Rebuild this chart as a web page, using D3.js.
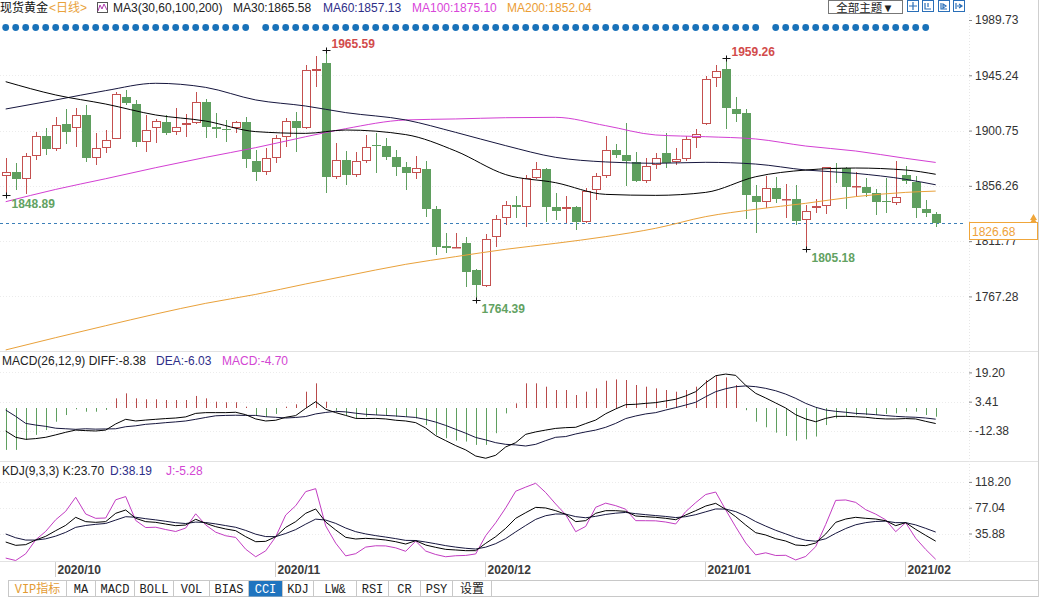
<!DOCTYPE html>
<html><head><meta charset="utf-8">
<script src="https://cdn.jsdelivr.net/npm/d3@7"></script>
<style>
html,body{margin:0;padding:0;background:#fff;}
svg{display:block;font-family:"Liberation Sans",Arial,sans-serif;}
</style></head><body>
<svg id="c" width="1040" height="597"></svg>
<script>
// ---------- DATA ----------
const openP=[1863.9,1867.2,1861.5,1880.5,1896.6,1885.7,1905.8,1902.6,1913.0,1878.4,
1887.0,1894.2,1927.5,1922.1,1891.3,1902.6,1907.4,1899.8,1905.0,1906.6,
1923.7,1903.4,1902.0,1902.6,1907.4,1876.0,1867.7,1878.4,1895.8,1908.5,
1902.6,1948.9,1954.9,1863.1,1877.1,1865.0,1876.5,1889.3,1888.3,1879.7,
1871.2,1866.4,1869.6,1837.4,1807.9,1806.8,1810.0,1788.6,1775.9,1814.8,
1830.1,1840.8,1839.0,1862.8,1869.8,1839.0,1837.4,1839.0,1827.4,1852.9,
1864.2,1885.1,1881.1,1875.7,1860.4,1873.0,1882.5,1875.4,1877.9,1894.5,
1905.8,1942.8,1950.1,1917.9,1914.6,1848.1,1843.5,1854.3,1845.0,1845.4,
1828.8,1838.2,1840.0,1870.9,1870.4,1855.4,1855.1,1850.3,1843.8,1842.7,
1865.0,1859.6,1837.4,1833.6];
const highP=[1878.4,1874.9,1882.5,1899.8,1902.6,1911.9,1917.9,1918.7,1921.3,1898.5,
1901.2,1932.0,1933.4,1925.4,1913.3,1909.8,1913.3,1918.7,1914.1,1932.0,
1925.9,1914.6,1909.3,1908.7,1911.4,1885.1,1886.5,1897.2,1910.6,1915.9,
1953.5,1960.8,1965.59,1890.5,1884.0,1883.7,1897.2,1898.5,1894.5,1885.1,
1875.7,1880.3,1876.5,1840.0,1818.1,1818.6,1814.8,1789.0,1817.5,1832.8,
1843.8,1848.1,1865.0,1875.7,1870.4,1850.2,1848.1,1840.3,1854.3,1866.4,
1896.4,1889.9,1906.6,1883.7,1878.4,1882.5,1898.5,1886.5,1896.4,1901.8,
1944.7,1953.5,1959.26,1927.5,1917.9,1857.0,1864.2,1863.6,1857.8,1857.0,
1840.8,1845.4,1871.7,1874.9,1871.7,1867.7,1862.3,1854.0,1862.3,1876.5,
1872.2,1864.2,1844.9,1834.9];
const lowP=[1848.89,1852.9,1850.0,1877.1,1881.1,1884.5,1889.9,1887.8,1875.7,1873.0,
1882.5,1893.8,1921.3,1887.3,1883.3,1890.5,1897.5,1897.2,1895.8,1905.8,
1894.5,1894.5,1891.8,1898.5,1870.4,1860.4,1865.0,1874.4,1887.8,1883.7,
1902.0,1936.1,1850.8,1861.8,1857.0,1863.6,1874.4,1866.4,1877.1,1864.4,
1852.9,1861.5,1831.4,1800.6,1801.9,1806.5,1774.6,1764.39,1775.0,1807.3,
1824.8,1830.1,1823.4,1862.0,1827.4,1828.8,1826.1,1820.7,1826.1,1844.9,
1862.3,1878.4,1856.1,1859.0,1858.3,1869.6,1870.4,1873.0,1876.5,1886.5,
1905.0,1935.6,1901.8,1907.9,1829.3,1818.1,1838.2,1842.2,1830.1,1824.8,
1805.18,1834.2,1833.6,1858.8,1837.4,1847.0,1847.5,1832.8,1834.2,1840.8,
1858.0,1830.1,1830.9,1823.4];
const closeP=[1867.2,1861.5,1880.5,1896.6,1885.7,1905.0,1899.8,1913.0,1878.4,1886.5,
1893.2,1930.2,1922.7,1891.3,1901.2,1908.5,1899.0,1903.4,1907.1,1923.7,
1903.9,1901.8,1901.7,1907.4,1877.6,1867.2,1878.4,1895.0,1908.5,1903.1,
1949.5,1950.5,1863.1,1877.1,1865.0,1876.3,1887.8,1889.0,1879.7,1871.7,
1866.4,1870.4,1837.9,1807.3,1806.3,1807.3,1787.2,1776.5,1813.2,1829.3,
1840.6,1839.6,1862.8,1869.8,1839.5,1836.3,1839.0,1827.4,1852.4,1864.2,
1885.1,1881.1,1876.5,1860.4,1872.2,1878.4,1874.9,1877.9,1894.0,1897.7,
1942.0,1948.9,1918.7,1914.1,1848.9,1843.5,1854.3,1845.4,1845.6,1828.2,
1836.3,1840.0,1871.2,1870.1,1855.6,1855.8,1850.3,1843.5,1843.3,1847.0,
1860.4,1838.2,1834.2,1826.68];

// moving averages read at these candle indices
const maIdx=[0,5,10,15,20,25,30,34,40,45,50,55,60,65,70,75,80,85,90,93];
const ma30=[1940.1,1929.4,1922.1,1913.3,1908.4,1899.9,1898.5,1901.2,1897.5,1884.3,1865.3,1858.8,1849.4,1848.6,1851.0,1863.6,1869.0,1870.6,1869.0,1865.58];
const ma60=[1918.1,1925.4,1932.9,1938.8,1935.5,1925.4,1920.5,1915.2,1909.3,1899.3,1888.6,1879.2,1875.5,1874.4,1875.2,1873.8,1869.0,1866.3,1861.5,1857.13];
const ma100=[1843.5,1853.4,1862.0,1870.9,1879.2,1887.0,1895.8,1902.3,1909.3,1910.1,1911.1,1911.4,1904.7,1897.2,1895.8,1894.0,1888.3,1884.3,1878.4,1875.10];
const ma200=[1724.2,1734.1,1743.7,1753.1,1761.7,1768.9,1777.3,1783.7,1793.1,1799.3,1805.2,1810.0,1815.4,1822.1,1831.5,1837.4,1842.2,1847.6,1851.0,1852.04];

const macdHist=[-22.6,-22.6,-17.2,-14.5,-11.9,-7.4,-3.8,-0.7,-2.0,-2.0,
-1.0,5.2,7.9,5.2,4.7,4.7,4.3,4.3,4.3,6.5,
5.2,3.4,3.1,3.1,0.7,-3.8,-4.7,-3.2,0.7,2.0,
8.8,13.3,3.4,-1.4,-3.8,-5.6,-4.7,-3.8,-3.8,-4.7,
-4.7,-5.6,-9.2,-14.5,-16.3,-17.6,-18.1,-19.9,-19.9,-13.6,
-2.9,2.5,13.3,13.3,11.5,9.7,9.7,7.0,8.8,10.6,
14.7,15.4,15.1,12.4,11.5,10.6,9.7,8.8,9.7,11.5,
15.1,17.2,16.5,12.4,-1.2,-7.4,-10.4,-13.3,-15.1,-17.6,
-16.9,-15.4,-9.2,-5.6,-4.3,-3.8,-3.8,-3.8,-3.2,-2.9,
-2.0,-2.0,-3.8,-4.70];
const diffV=[-12.4,-15.8,-16.9,-16.5,-15.8,-14.5,-13.1,-11.9,-12.2,-12.4,
-11.9,-8.6,-6.1,-7.0,-6.5,-6.1,-5.7,-5.4,-4.8,-2.9,
-2.5,-2.5,-2.5,-2.3,-3.6,-5.9,-7.0,-6.6,-5.0,-4.1,
-0.2,3.4,-0.7,-2.5,-4.0,-5.6,-5.7,-5.6,-5.9,-6.6,
-7.0,-7.9,-10.8,-14.9,-17.6,-20.3,-22.6,-25.9,-27.1,-25.5,
-21.0,-18.7,-14.2,-12.9,-11.9,-11.0,-10.6,-10.4,-8.4,-6.5,
-3.1,-0.5,1.8,2.0,2.5,2.9,3.8,4.7,6.5,8.8,
13.6,17.4,18.3,17.6,12.2,7.9,5.4,2.7,0.0,-3.6,
-5.9,-7.4,-5.6,-4.5,-4.5,-4.7,-5.0,-5.6,-5.9,-5.9,
-5.7,-5.9,-7.2,-8.38];
const deaV=[-1.1,-4.5,-8.3,-9.2,-9.9,-10.9,-11.2,-11.5,-11.2,-11.4,
-11.3,-11.2,-10.1,-9.6,-8.8,-8.4,-7.9,-7.5,-7.0,-6.1,
-5.1,-4.2,-4.0,-3.9,-4.0,-4.0,-4.7,-5.0,-5.4,-5.1,
-4.6,-3.2,-2.4,-1.8,-2.1,-2.8,-3.4,-3.7,-4.0,-4.3,
-4.7,-5.1,-6.2,-7.6,-9.4,-11.5,-13.6,-15.9,-17.2,-18.7,
-19.6,-19.9,-20.5,-19.6,-17.6,-15.8,-15.4,-14.0,-12.9,-11.9,
-10.4,-8.3,-5.7,-4.3,-3.2,-2.5,-1.1,0.2,1.6,3.1,
6.1,8.8,10.4,11.5,11.9,11.5,10.6,9.3,7.5,5.2,
2.5,0.4,-1.1,-1.8,-2.3,-2.9,-3.2,-3.6,-4.1,-4.5,
-4.8,-5.0,-5.4,-6.03];

const kV=[22.3,17.0,18.1,25.5,31.4,40.4,48.9,61.7,54.8,53.7,
54.8,68.1,73.4,60.1,54.8,53.7,51.0,48.4,49.4,58.5,
52.1,46.8,43.1,40.4,30.8,22.8,23.4,30.8,45.7,54.8,
68.1,75.0,54.2,41.5,29.8,27.1,28.2,27.1,25.5,22.8,
19.1,24.4,17.5,13.8,10.6,9.6,8.5,8.5,20.2,30.8,
44.1,60.1,69.1,77.6,76.6,72.3,66.5,54.8,56.4,68.1,
72.3,72.3,71.2,63.8,62.7,61.7,60.1,57.9,65.4,72.3,
79.7,84.0,74.4,62.7,49.4,37.2,33.5,27.6,23.9,17.5,
16.5,20.7,35.1,53.7,59.0,61.7,60.1,59.0,56.3,48.4,
53.2,42.5,32.9,23.70];
const dV=[35.1,29.1,25.4,25.4,27.4,31.7,37.7,45.7,48.7,50.5,
51.9,57.3,62.7,61.8,59.5,57.6,55.4,53.1,51.8,54.1,
53.4,51.2,48.5,45.8,40.8,34.8,31.0,30.9,35.9,42.1,
50.8,58.8,57.3,52.0,44.6,38.8,35.2,32.5,30.2,27.7,
24.9,24.7,22.3,19.5,16.5,14.2,12.3,11.1,14.1,19.7,
27.8,38.5,48.7,58.4,64.3,67.0,66.8,62.8,61.0,63.3,
66.3,68.3,69.5,67.5,65.9,64.5,63.1,61.3,62.7,65.9,
70.5,75.0,74.8,70.8,63.7,54.9,47.7,41.0,35.3,29.4,
25.1,23.6,27.5,36.2,43.8,49.8,53.2,55.1,55.6,53.2,
53.2,49.6,44.1,38.19];
const jV=[-3.3,-7.2,3.5,25.7,39.3,57.8,71.3,93.7,67.0,60.1,
60.6,89.7,94.8,56.7,45.4,45.9,42.2,39.1,44.6,67.3,
49.5,38.0,32.3,29.6,10.8,-1.2,8.2,30.6,65.3,80.2,
102.7,107.4,48.0,20.5,0.2,3.7,14.2,16.3,16.1,13.0,
7.5,23.8,7.9,2.4,-1.2,0.4,0.9,3.3,32.4,53.0,
76.7,103.3,109.9,116.0,101.2,82.9,65.9,38.8,47.2,77.7,
84.3,80.3,74.6,56.4,56.3,56.1,54.2,51.1,70.8,85.1,
98.1,102.0,73.6,46.5,20.8,1.8,5.1,0.8,1.1,-6.3,
-0.7,14.9,50.3,88.7,89.4,85.5,73.9,66.8,57.7,38.8,
53.2,28.3,10.5,-5.28];

const priceTicks=[1989.73,1945.24,1900.75,1856.26,1811.77,1767.28];
const macdTicks=[19.20,3.41,-12.38];
const kdjTicks=[118.20,77.04,35.88];
const dateLabels=["2020/10","2020/11","2020/12","2021/01","2021/02"];
const dateIdx=[5,27,48,70,90];
const dotGaps=[25,76,93];
const lastPrice=1826.68;
const extremeIdx=[32,72,0,47,80];
const extremeVal=[1965.59,1959.26,1848.89,1764.39,1805.18];
const extremeKind=["high","high","low","low","low"];
const tabNames=["VIP指标","MA","MACD","BOLL","VOL","BIAS","CCI","KDJ","LW&","RSI","CR","PSY","设置"];
const tabEdges=[8.5,66.5,95.5,134.5,173.5,209.5,248.5,282.5,313.5,356.5,388.5,420.5,452.5,491.5];

// ---------- SETUP ----------
const svg=d3.select("#c");
const N=closeP.length;
const x=d3.scaleLinear().domain([0,N-1]).range([5.7,935.7]);
const yP=d3.scaleLinear().domain([1764.39,1965.59]).range([300,50]);
const yM=d3.scaleLinear().domain([0,19.2]).range([408,372.4]);
const yK=d3.scaleLinear().domain([0,118.2]).range([556,481.9]);
const RED="#c4504f", GREEN="#5f9f5f";
const cx=i=>Math.round(x(i));
const SANS="'Liberation Sans',Arial,'Noto Sans CJK SC',sans-serif";

const defs=svg.append("defs");
defs.append("clipPath").attr("id","cp").append("rect").attr("x",0).attr("y",36).attr("width",966).attr("height",315);
defs.append("clipPath").attr("id","cm").append("rect").attr("x",0).attr("y",352).attr("width",966).attr("height",109);
defs.append("clipPath").attr("id","ck").append("rect").attr("x",0).attr("y",462).attr("width",966).attr("height",99);

const sepY=[351.5,461.5,561.5];
svg.selectAll(".sep").data(sepY).enter().append("line")
  .attr("x1",0).attr("x2",1038).attr("y1",d=>d).attr("y2",d=>d).attr("stroke","#e2e2e2");
svg.append("line").attr("x1",1038.5).attr("x2",1038.5).attr("y1",0).attr("y2",597).attr("stroke","#cfcfcf");
svg.append("line").attr("x1",969.5).attr("x2",969.5).attr("y1",14).attr("y2",561).attr("stroke","#e6e6e6").attr("stroke-dasharray","1,2");

function grid(scale,ticks){
  svg.append("g").selectAll("line").data(ticks).enter().append("line")
   .attr("x1",0).attr("x2",966).attr("y1",d=>Math.round(scale(d))+0.5).attr("y2",d=>Math.round(scale(d))+0.5)
   .attr("stroke","#ececec").attr("stroke-dasharray","1,2");
}
grid(yP,priceTicks.filter(d=>yP(d)>36)); grid(yM,macdTicks); grid(yK,kdjTicks);

function rAxis(scale,ticks){
  const g=svg.append("g").attr("transform","translate(969,0)")
    .call(d3.axisRight(scale).tickValues(ticks).tickSize(3).tickFormat(d=>d.toFixed(2)));
  g.select(".domain").remove();
  g.selectAll("text").attr("fill","#333").style("font-size","12px").style("font-family",SANS);
  g.selectAll("line").attr("stroke","#888");
  return g;
}
rAxis(yP,priceTicks); rAxis(yM,macdTicks); rAxis(yK,kdjTicks);

// ---------- HEADER ----------
const hdr=svg.append("g").style("font-size","12px").style("font-family",SANS);
hdr.append("text").attr("x",0).attr("y",12).attr("fill","#111").text("现货黄金");
hdr.append("text").attr("x",49).attr("y",12).attr("fill","#e9a23b").text("<日线>");
const ic=hdr.append("g").attr("transform","translate(97,2)");
ic.append("rect").attr("x",0.5).attr("y",0.5).attr("width",10).attr("height",10).attr("fill","none").attr("stroke","#555");
ic.append("path").attr("d","M1,9 L3,3 L5,7 L7,2 L10,8").attr("fill","none").attr("stroke","#b03ab0");
const hItems=[["MA3(30,60,100,200)",113,"#222"],["MA30:1865.58",233,"#222"],["MA60:1857.13",323,"#2e2e88"],["MA100:1875.10",412,"#d945d9"],["MA200:1852.04",507,"#eb9d35"]];
hdr.selectAll(".hi").data(hItems).enter().append("text").attr("x",d=>d[1]).attr("y",12).attr("fill",d=>d[2]).text(d=>d[0]);
svg.append("rect").attr("x",828.5).attr("y",0.5).attr("width",74).attr("height",13).attr("fill","#fff").attr("stroke","#777");
svg.append("text").attr("x",865).attr("y",11.5).attr("text-anchor","middle").style("font-size","11.5px").style("font-family",SANS).attr("fill","#222").text("全部主题▼");
[907,922,938,953].forEach((px,k)=>{
  const g=svg.append("g").attr("transform",`translate(${px},0)`);
  g.append("rect").attr("x",0.5).attr("y",0.5).attr("width",11).attr("height",11).attr("fill","#fff").attr("stroke","#2a6fb8");
  const glyph=["M6,2V10M2,6H10","M3,3V9H9M6,3V7","M3,3V9H9M5,4L8,6L5,8Z","M3,3V9M4,6H8M6,4L9,6L6,8"][k];
  g.append("path").attr("d",glyph).attr("fill","none").attr("stroke","#2a6fb8").attr("stroke-width",1.2);
});

const dotIdx=d3.range(N).filter(i=>!dotGaps.includes(i));
svg.append("g").selectAll("circle").data(dotIdx).enter().append("circle")
  .attr("cx",i=>x(i)).attr("cy",27.5).attr("r",3.4).attr("fill","#1a72b9");

// ---------- PRICE PANEL ----------
const pp=svg.append("g").attr("clip-path","url(#cp)");
pp.append("line").attr("x1",0).attr("x2",968).attr("y1",Math.round(yP(lastPrice))+0.5).attr("y2",Math.round(yP(lastPrice))+0.5)
  .attr("stroke","#3c7fb8").attr("stroke-dasharray","3,3");
const cg=pp.append("g");
d3.range(N).forEach(i=>{
  const o=openP[i],c=closeP[i],h=highP[i],l=lowP[i];
  const up=c>=o, col=up?RED:GREEN, X=cx(i);
  let top=Math.round(yP(Math.max(o,c))), bot=Math.round(yP(Math.min(o,c)));
  if(bot-top<1) bot=top+1;
  const yh=Math.round(yP(h)), yl=Math.round(yP(l));
  if(up){
    cg.append("line").attr("x1",X+0.5).attr("x2",X+0.5).attr("y1",yh).attr("y2",top).attr("stroke",col);
    cg.append("line").attr("x1",X+0.5).attr("x2",X+0.5).attr("y1",bot).attr("y2",yl).attr("stroke",col);
    cg.append("rect").attr("x",X-3.5).attr("y",top+0.5).attr("width",8).attr("height",Math.max(bot-top-1,0.5)).attr("fill","#fff").attr("stroke",col);
  } else {
    cg.append("line").attr("x1",X+0.5).attr("x2",X+0.5).attr("y1",yh).attr("y2",yl).attr("stroke",col);
    cg.append("rect").attr("x",X-4).attr("y",top).attr("width",9).attr("height",bot-top).attr("fill",col);
  }
});
const maLine=arr=>d3.line().x((d,k)=>x(maIdx[k])).y(d=>yP(d)).curve(d3.curveMonotoneX)(arr);
[[ma200,"#e9a13a"],[ma100,"#d33fd3"],[ma60,"#16163e"],[ma30,"#000"]].forEach(([a,c])=>{
  pp.append("path").attr("d",maLine(a)).attr("fill","none").attr("stroke",c).attr("stroke-width",1);
});
extremeIdx.forEach((i,k)=>{
  const X=cx(i)+0.5, Y=Math.round(yP(extremeVal[k]))+0.5, hi=extremeKind[k]==="high";
  svg.append("path").attr("d",`M${X-4},${Y}H${X+4}M${X},${Y-3}V${Y+3}`).attr("stroke","#111").attr("fill","none");
  svg.append("text").attr("x",X+5).attr("y",hi?Y-3:Y+12).style("font-size","12px").style("font-weight","bold")
   .attr("fill",hi?"#d24b4b":"#62a262").text(extremeVal[k].toFixed(2));
});
const lpY=Math.round(yP(lastPrice));
svg.append("rect").attr("x",969.5).attr("y",222.5).attr("width",68).attr("height",17).attr("fill","#fff").attr("stroke","#f0a63a");
svg.append("text").attr("x",972).attr("y",235.5).style("font-size","12px").attr("fill","#eea23a").text(lastPrice.toFixed(2));
svg.append("path").attr("d",`M1030,${lpY}L1033.5,${lpY-6}L1037,${lpY}Z M1030,${lpY-3}L1033.5,${lpY-9}L1037,${lpY-3}Z`).attr("fill","#f0a63a");

// ---------- MACD PANEL ----------
const mTitle=[["MACD(26,12,9) DIFF:-8.38",2,"#222"],["DEA:-6.03",156,"#2e2e88"],["MACD:-4.70",222,"#d346d3"]];
svg.append("g").selectAll("text").data(mTitle).enter().append("text").attr("x",d=>d[1]).attr("y",365)
  .style("font-size","12px").attr("fill",d=>d[2]).text(d=>d[0]);
const mp=svg.append("g").attr("clip-path","url(#cm)");
mp.selectAll("line.h").data(macdHist).enter().append("line")
  .attr("x1",(d,i)=>cx(i)+0.5).attr("x2",(d,i)=>cx(i)+0.5)
  .attr("y1",yM(0)).attr("y2",d=>yM(d)).attr("stroke",d=>d>=0?"#b84a4a":"#5f9f5f");
const ln=d3.line().x((d,i)=>x(i)).y(d=>yM(d));
mp.append("path").attr("d",ln(deaV)).attr("fill","none").attr("stroke","#16163e");
mp.append("path").attr("d",ln(diffV)).attr("fill","none").attr("stroke","#000");

// ---------- KDJ PANEL ----------
const kTitle=[["KDJ(9,3,3) K:23.70",2,"#222"],["D:38.19",110,"#2e2e88"],["J:-5.28",166,"#d346d3"]];
svg.append("g").selectAll("text").data(kTitle).enter().append("text").attr("x",d=>d[1]).attr("y",475)
  .style("font-size","12px").attr("fill",d=>d[2]).text(d=>d[0]);
const kp=svg.append("g").attr("clip-path","url(#ck)");
const lk=d3.line().x((d,i)=>x(i)).y(d=>yK(d));
kp.append("path").attr("d",lk(jV)).attr("fill","none").attr("stroke","#c23cc2");
kp.append("path").attr("d",lk(dV)).attr("fill","none").attr("stroke","#16163e");
kp.append("path").attr("d",lk(kV)).attr("fill","none").attr("stroke","#000");

// ---------- DATE AXIS ----------
dateIdx.forEach((i,k)=>{
  const X=cx(i)-0.5;
  svg.append("line").attr("x1",X).attr("x2",X).attr("y1",562).attr("y2",577).attr("stroke","#d0d0d0");
  svg.append("text").attr("x",X+2).attr("y",574).style("font-size","12px").style("font-weight","bold").attr("fill","#3a3a3a").text(dateLabels[k]);
});

// ---------- TAB BAR ----------
svg.append("line").attr("x1",8).attr("x2",1038).attr("y1",580.5).attr("y2",580.5).attr("stroke","#c8c8c8");
svg.append("line").attr("x1",8).attr("x2",1038).attr("y1",596.5).attr("y2",596.5).attr("stroke","#c8c8c8");
tabNames.forEach((t,k)=>{
  const a=tabEdges[k], b=tabEdges[k+1];
  if(t==="CCI") svg.append("rect").attr("x",a).attr("y",581).attr("width",b-a).attr("height",15.5).attr("fill","#1f74bf");
  svg.append("line").attr("x1",a).attr("x2",a).attr("y1",581).attr("y2",596).attr("stroke","#c8c8c8");
  svg.append("text").attr("x",(a+b)/2).attr("y",593).attr("text-anchor","middle")
    .style("font-size","12px").style("font-family","'Liberation Mono','Noto Sans CJK SC',monospace")
    .attr("fill",t==="CCI"?"#fff":(t==="VIP指标"?"#e39b34":"#222")).text(t);
});
svg.append("line").attr("x1",tabEdges[tabEdges.length-1]).attr("x2",tabEdges[tabEdges.length-1]).attr("y1",581).attr("y2",596).attr("stroke","#c8c8c8");
</script>
</body></html>
